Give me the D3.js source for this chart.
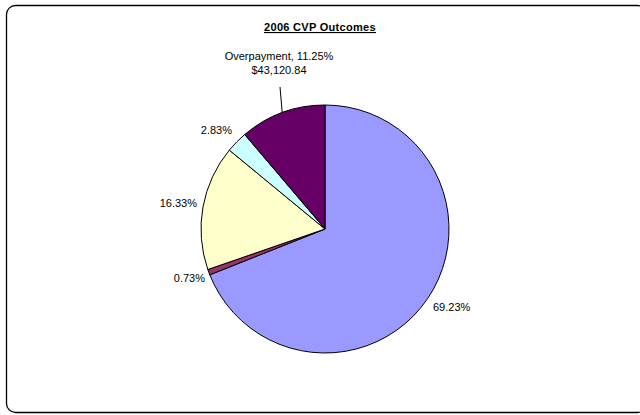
<!DOCTYPE html>
<html>
<head>
<meta charset="utf-8">
<script src="https://cdn.jsdelivr.net/npm/d3@7"></script>
<style>
  html, body { margin: 0; padding: 0; background: #fff; }
  svg { display: block; font-family: "Liberation Sans", Arial, sans-serif; }
</style>
</head>
<body>
<svg id="chart" width="640" height="415"></svg>
<script>
// Outcome shares, clockwise from 12 o'clock
const categories = ["Recovered", "Other", "Underpayment", "Pending", "Overpayment"];
const shares = [69.23, 0.73, 16.33, 2.83, 11.25];
const labels = ["69.23%", "0.73%", "16.33%", "2.83%", "Overpayment, 11.25%"];
const overpaymentAmount = "$43,120.84";
const colors = ["#9999FF", "#993366", "#FFFFCC", "#CCFFFF", "#660066"];

const svg = d3.select("#chart");

// Rounded chart frame
svg.append("rect")
  .attr("x", 6.5).attr("y", 5.5)
  .attr("width", 640).attr("height", 407)
  .attr("rx", 9).attr("ry", 9)
  .attr("fill", "#fff").attr("stroke", "#000").attr("stroke-width", 1.3);

// Title
svg.append("text")
  .attr("x", 320).attr("y", 31)
  .attr("text-anchor", "middle")
  .attr("font-size", 11).attr("font-weight", "bold")
  .attr("letter-spacing", 0.3)
  .attr("text-decoration", "underline")
  .text("2006 CVP Outcomes");

const cx = 325, cy = 229, r = 124;
const pie = d3.pie().sort(null).value(d => d.value);
const arcs = pie(shares.map((v, i) => ({ value: v, i })));
const arc = d3.arc().innerRadius(0).outerRadius(r);

const g = svg.append("g").attr("transform", `translate(${cx},${cy})`);
g.selectAll("path.slice")
  .data(arcs)
  .join("path")
  .attr("class", "slice")
  .attr("d", arc)
  .attr("fill", d => colors[d.data.i])
  .attr("stroke", "#000")
  .attr("stroke-width", 1)
  .attr("stroke-linejoin", "round");

const labelArc = d3.arc().innerRadius(r + 22).outerRadius(r + 22);
const fontSize = 11;

arcs.forEach(d => {
  const i = d.data.i;
  const mid = (d.startAngle + d.endAngle) / 2;
  if (i === 4) {
    // Overpayment: two lines above the pie with a leader line to the rim
    const lx = -46, ly = -169;
    g.append("text")
      .attr("x", lx).attr("y", ly)
      .attr("text-anchor", "middle").attr("font-size", fontSize)
      .text(labels[i]);
    g.append("text")
      .attr("x", lx).attr("y", ly + 14)
      .attr("text-anchor", "middle").attr("font-size", fontSize)
      .text(overpaymentAmount);
    g.append("line")
      .attr("x1", -45).attr("y1", -142)
      .attr("x2", Math.sin(mid) * r).attr("y2", -Math.cos(mid) * r)
      .attr("stroke", "#000").attr("stroke-width", 1);
  } else {
    const right = Math.sin(mid) > 0;
    let [x, y] = labelArc.centroid(d);
    if (i === 0) { x = 108; y = 82; }
    if (i === 1) { x = -120; y = 53; }
    if (i === 2) { x = -128; y = -22; }
    if (i === 3) { x = -93; y = -95; }
    g.append("text")
      .attr("x", x).attr("y", y)
      .attr("text-anchor", right ? "start" : "end")
      .attr("font-size", fontSize)
      .text(labels[i]);
  }
});
</script>
</body>
</html>
